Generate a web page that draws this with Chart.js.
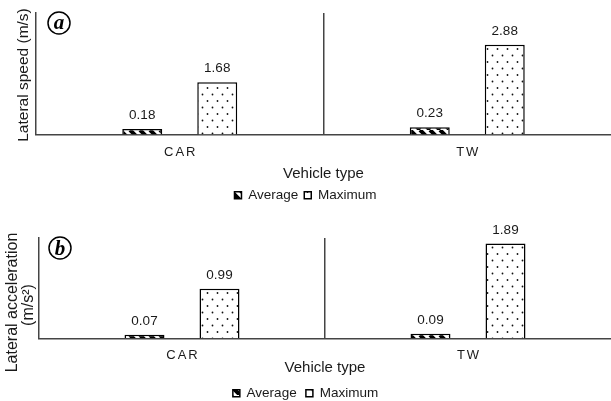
<!DOCTYPE html>
<html><head><meta charset="utf-8">
<script src="https://cdn.jsdelivr.net/npm/chart.js@4.4.1/dist/chart.umd.min.js"></script>
<style>
html,body{margin:0;padding:0;background:#fff;overflow:hidden;width:611px;height:401px}
canvas{position:absolute;left:0;display:block}
#c1{top:0}
#c2{top:205px}
</style></head><body>
<canvas id="c1" width="611" height="212"></canvas>
<canvas id="c2" width="611" height="205"></canvas>
<script>
const categories = ['CAR', 'TW'];
const seriesNames = ['Average', 'Maximum'];
const speedAverage = [0.18, 0.23];
const speedMaximum = [1.68, 2.88];
const accelAverage = [0.07, 0.09];
const accelMaximum = [0.99, 1.89];
const speedMax = 3.9;
const accelMax = 2;

const FONT = '"Liberation Sans", Arial, sans-serif';
const TEXT = '#1a1a1a';
const AXIS = '#444';

function stripePattern() {
  const c = document.createElement('canvas'); c.width = 10; c.height = 10;
  const g = c.getContext('2d');
  g.fillStyle = '#fff'; g.fillRect(0, 0, 10, 10);
  g.strokeStyle = '#000'; g.lineWidth = 4;
  g.beginPath();
  for (const o of [-10, 0, 10]) { g.moveTo(o, 0); g.lineTo(o + 10, 10); }
  g.stroke();
  return g.createPattern(c, 'repeat');
}
function dotPattern() {
  const c = document.createElement('canvas'); c.width = 10; c.height = 13;
  const g = c.getContext('2d');
  g.fillStyle = '#fff'; g.fillRect(0, 0, 10, 13);
  g.fillStyle = '#111';
  g.beginPath(); g.arc(2.5, 3.5, 0.9, 0, Math.PI * 2); g.fill();
  g.beginPath(); g.arc(7.5, 10, 0.9, 0, Math.PI * 2); g.fill();
  return g.createPattern(c, 'repeat');
}

function decoPlugin(o) {
  return {
    id: 'deco',
    afterDraw(chart) {
      const {ctx, chartArea, scales: {x}} = chart;
      ctx.save();
      ctx.fillStyle = TEXT;
      ctx.font = '13.5px ' + FONT;
      ctx.textAlign = 'center';
      ctx.textBaseline = 'alphabetic';
      chart.data.datasets.forEach((ds, di) => {
        chart.getDatasetMeta(di).data.forEach((bar, i) => {
          ctx.fillText(ds.data[i].toFixed(2), bar.x, bar.y - 10);
        });
      });
      ctx.font = '13px ' + FONT;
      ctx.letterSpacing = '2px';
      chart.data.labels.forEach((l, i) => {
        ctx.fillText(l, x.getPixelForValue(i) + 1, chartArea.bottom + 21);
      });
      ctx.letterSpacing = '0px';
      o.yTitle.forEach(t => {
        ctx.save();
        ctx.translate(t.x, t.y);
        ctx.rotate(-Math.PI / 2);
        ctx.font = t.size + 'px ' + FONT;
        ctx.fillText(t.text, 0, 0);
        ctx.restore();
      });
      ctx.beginPath();
      ctx.lineWidth = 1.5; ctx.strokeStyle = '#000';
      ctx.arc(o.cx, o.cy, 11, 0, Math.PI * 2);
      ctx.stroke();
      ctx.fillStyle = '#000';
      ctx.font = 'italic bold 21px "Liberation Serif", "Times New Roman", serif';
      ctx.fillText(o.letter, o.cx, o.cy + o.dy);
      ctx.restore();
    }
  };
}

function makeChart(id, avg, max, yMax, cfg) {
  return new Chart(document.getElementById(id), {
    type: 'bar',
    data: {
      labels: categories,
      datasets: [
        {label: seriesNames[0], data: avg, backgroundColor: stripePattern(), borderColor: '#000', borderWidth: 1.5,
         categoryPercentage: cfg.cp, barPercentage: 0.533},
        {label: seriesNames[1], data: max, backgroundColor: dotPattern(), borderColor: '#000', borderWidth: 1.5,
         categoryPercentage: cfg.cp, barPercentage: 0.533}
      ]
    },
    options: {
      responsive: false,
      animation: false,
      layout: {padding: {top: cfg.top, left: 0, right: 0, bottom: 0}},
      scales: {
        x: {
          ticks: {display: false},
          grid: {display: true, drawTicks: false, offset: true, lineWidth: 1.5,
                 color: (c) => c.index === 1 ? AXIS : 'rgba(0,0,0,0)'},
          border: {display: true, color: AXIS, width: 1.5},
          title: {display: true, text: 'Vehicle type', color: TEXT, padding: 0,
                  font: {family: FONT, size: 15}},
          afterFit: (s) => { s.height = cfg.xh; }
        },
        y: {
          min: 0, max: yMax,
          ticks: {display: false},
          grid: {display: false, drawTicks: false},
          border: {display: true, color: AXIS, width: 1.5},
          afterFit: (s) => { s.width = cfg.yw; }
        }
      },
      plugins: {
        legend: {
          position: 'bottom',
          labels: {boxWidth: 7, boxHeight: 7, padding: cfg.lp, color: TEXT,
                   font: {family: FONT, size: 13.5}}
        },
        tooltip: {enabled: false}
      }
    },
    plugins: [decoPlugin(cfg.deco)]
  });
}

makeChart('c1', speedAverage, speedMaximum, speedMax, {
  cp: 0.5217, top: 13, xh: 48, yw: 36, lp: 6,
  deco: {letter: 'a', cx: 59, cy: 23, dy: 6,
         yTitle: [{text: 'Lateral speed (m/s)', x: 28, y: 75, size: 15.5}]}
});
makeChart('c2', accelAverage, accelMaximum, accelMax, {
  cp: 0.5245, top: 33, xh: 39, yw: 39, lp: 9.25,
  deco: {letter: 'b', cx: 60, cy: 43, dy: 7,
         yTitle: [{text: 'Lateral acceleration', x: 16.5, y: 97.5, size: 16},
                  {text: '(m/s\u00B2)', x: 32.5, y: 100, size: 16}]}
});
</script>
</body></html>
